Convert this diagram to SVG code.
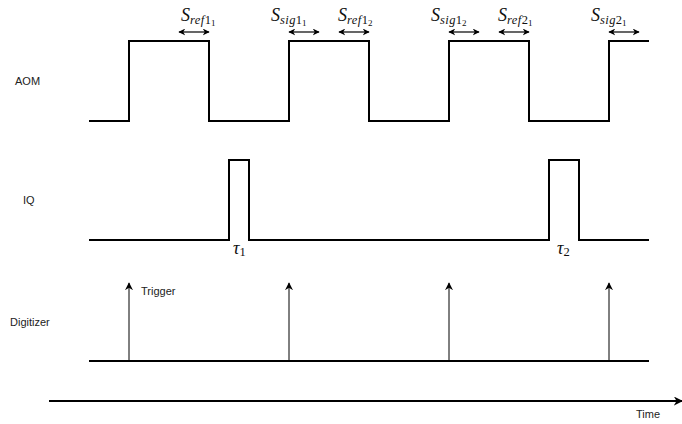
<svg xmlns="http://www.w3.org/2000/svg" width="682" height="424" viewBox="0 0 682 424">
<style>
.wave{fill:none;stroke:#000;stroke-width:2}
.trig{fill:none;stroke:#000;stroke-width:1}
.dbl{fill:none;stroke:#000;stroke-width:1.2}
.lbl{font-family:"Liberation Sans",Arial,sans-serif;font-size:11px;fill:#222}
.m{font-family:"Liberation Serif","DejaVu Serif",serif;font-style:italic;fill:#111}
.S{font-size:18px}
.s1{font-size:12.5px;letter-spacing:0.4px}
.d1{font-size:12.5px;font-style:normal}
.s2{font-size:9px;font-style:normal}
</style>
<defs>
<marker id="ah" viewBox="0 0 10 10" refX="9" refY="5" markerWidth="7" markerHeight="7" markerUnits="userSpaceOnUse" orient="auto-start-reverse">
<path d="M0,0 L10,5 L0,10 L3,5 Z" fill="#000"/>
</marker>
<marker id="ta" viewBox="0 0 10 10" refX="9" refY="5" markerWidth="8" markerHeight="9" markerUnits="userSpaceOnUse" orient="auto">
<path d="M0,0 L10,5 L0,10 L3,5 Z" fill="#000"/>
</marker>
<marker id="xa" viewBox="0 0 10 10" refX="9" refY="5" markerWidth="9" markerHeight="9" markerUnits="userSpaceOnUse" orient="auto">
<path d="M0,0 L10,5 L0,10 L3,5 Z" fill="#000"/>
</marker>
</defs>
<g id="labels">
<text class="lbl" x="15" y="85">AOM</text>
<text class="lbl" x="23" y="204">IQ</text>
<text class="lbl" x="10" y="326">Digitizer</text>
<text class="lbl" x="141" y="295">Trigger</text>
<text class="lbl" x="636" y="418">Time</text>
</g>
<g id="aom">
<path class="wave" d="M89,121 H129 V41 H209 V121 H289 V41 H369 V121 H449 V41 H529 V121 H609 V41 H649"/>
</g>
<g id="iq">
<path class="wave" d="M89,240 H229 V160 H249 V240 H549 V160 H579 V240 H649"/>
<text class="m" x="233" y="254" font-size="18">τ<tspan font-size="12.5" font-style="normal" dy="2">1</tspan></text>
<text class="m" x="557" y="254" font-size="18">τ<tspan font-size="12.5" font-style="normal" dy="2">2</tspan></text>
</g>
<g id="digitizer">
<path class="wave" d="M89,361 H649"/>
</g>
<g id="connectors">
<line class="trig" x1="129" y1="361" x2="129" y2="283" marker-end="url(#ta)"/>
<line class="trig" x1="289" y1="361" x2="289" y2="283" marker-end="url(#ta)"/>
<line class="trig" x1="449" y1="361" x2="449" y2="283" marker-end="url(#ta)"/>
<line class="trig" x1="609" y1="361" x2="609" y2="283" marker-end="url(#ta)"/>
<line class="wave" x1="49" y1="401" x2="682" y2="401" marker-end="url(#xa)"/>
<line class="dbl" x1="179" y1="32" x2="209" y2="32" marker-start="url(#ah)" marker-end="url(#ah)"/>
<line class="dbl" x1="289" y1="32" x2="319" y2="32" marker-start="url(#ah)" marker-end="url(#ah)"/>
<line class="dbl" x1="339" y1="32" x2="369" y2="32" marker-start="url(#ah)" marker-end="url(#ah)"/>
<line class="dbl" x1="449" y1="32" x2="479" y2="32" marker-start="url(#ah)" marker-end="url(#ah)"/>
<line class="dbl" x1="499" y1="32" x2="529" y2="32" marker-start="url(#ah)" marker-end="url(#ah)"/>
<line class="dbl" x1="609" y1="32" x2="639" y2="32" marker-start="url(#ah)" marker-end="url(#ah)"/>
</g>
<g id="slabels">
<text class="m S" x="181" y="21">S<tspan class="s1" dy="3">ref</tspan><tspan class="d1">1</tspan><tspan class="s2" dy="2">1</tspan></text>
<text class="m S" x="271" y="21">S<tspan class="s1" dy="3">sig</tspan><tspan class="d1">1</tspan><tspan class="s2" dy="2">1</tspan></text>
<text class="m S" x="338" y="21">S<tspan class="s1" dy="3">ref</tspan><tspan class="d1">1</tspan><tspan class="s2" dy="2">2</tspan></text>
<text class="m S" x="431" y="21">S<tspan class="s1" dy="3">sig</tspan><tspan class="d1">1</tspan><tspan class="s2" dy="2">2</tspan></text>
<text class="m S" x="498" y="21">S<tspan class="s1" dy="3">ref</tspan><tspan class="d1">2</tspan><tspan class="s2" dy="2">1</tspan></text>
<text class="m S" x="591" y="21">S<tspan class="s1" dy="3">sig</tspan><tspan class="d1">2</tspan><tspan class="s2" dy="2">1</tspan></text>
</g>
</svg>
